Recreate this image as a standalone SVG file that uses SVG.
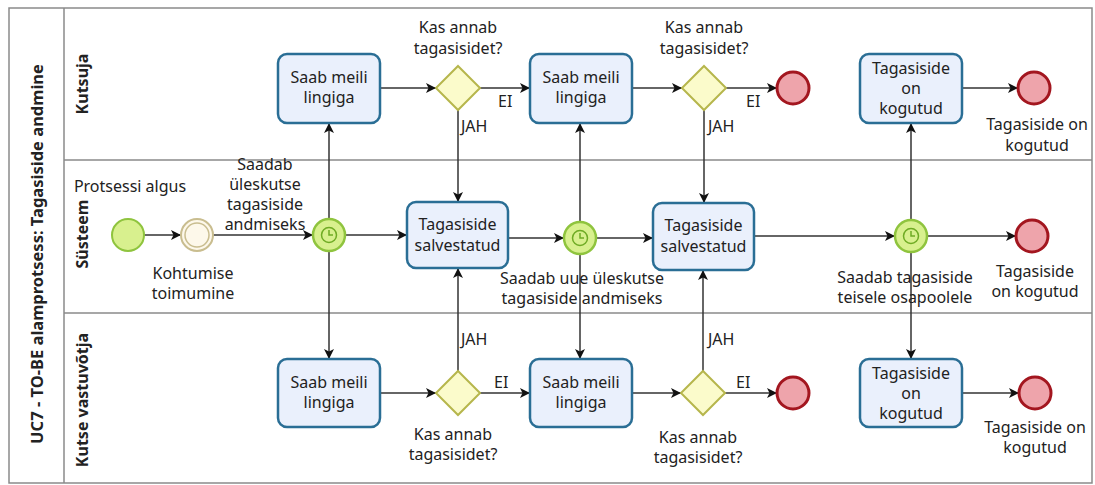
<svg xmlns="http://www.w3.org/2000/svg" width="1095" height="485" viewBox="0 0 1095 485">
  <defs>
    <style>
      text { font-family: "Noto Sans", "Open Sans", "DejaVu Sans", sans-serif; font-size: 16px; fill: #222; }
      .c { text-anchor: middle; }
      .pool { fill: #fff; stroke: #8a8a8a; stroke-width: 1.5; }
      .sep { stroke: #8a8a8a; stroke-width: 1.5; fill: none; }
      .hdr { font-weight: bold; text-anchor: middle; }
      .task { fill: #eaf0fc; stroke: #2a6e95; stroke-width: 2.5; }
      .gw { fill: #fbfbcb; stroke: #b6b64c; stroke-width: 2; }
      .start { fill: #d8f08e; stroke: #8fc43e; stroke-width: 2; }
      .inter { fill: #fdf8ea; stroke: #c9bd8f; stroke-width: 2; }
      .timer { fill: #d8f08e; stroke: #8fc43e; stroke-width: 2.5; }
      .clock { fill: none; stroke: #6fab24; stroke-width: 1.5; }
      .end { fill: #eea4ab; stroke: #a3161f; stroke-width: 3; }
      .flow { fill: none; stroke: #333; stroke-width: 1.5; marker-end: url(#arrow); }
    </style>
    <marker id="arrow" viewBox="0 0 10 10" refX="10" refY="5" markerWidth="10" markerHeight="10" markerUnits="userSpaceOnUse" orient="auto">
      <path d="M0,0 L10,5 L0,10 L2.5,5 Z" fill="#111"/>
    </marker>
    <g id="clockIcon">
      <circle class="clock" r="7.5"/>
      <path class="clock" d="M0,-5 V0 H4"/>
    </g>
  </defs>

  <!-- pool and lanes -->
  <g id="pool">
    <rect class="pool" x="9" y="8" width="1083" height="475"/>
    <line class="sep" x1="64" y1="8" x2="64" y2="483"/>
    <line class="sep" x1="64" y1="160" x2="1092" y2="160"/>
    <line class="sep" x1="64" y1="313" x2="1092" y2="313"/>
    <text class="hdr" style="font-size:16.5px" transform="translate(43,254) rotate(-90)">UC7 - TO-BE alamprotsess: Tagasiside andmine</text>
    <text class="hdr" transform="translate(88,84) rotate(-90)">Kutsuja</text>
    <text class="hdr" transform="translate(88,234) rotate(-90)">Süsteem</text>
    <text class="hdr" transform="translate(88,400) rotate(-90)">Kutse vastuvõtja</text>
  </g>

  <!-- sequence flows -->
  <g id="connectors">
    <path class="flow" d="M144,235 H181"/>
    <path class="flow" d="M213,235 H313"/>
    <path class="flow" d="M345,235 H407"/>
    <path class="flow" d="M329,219 V123"/>
    <path class="flow" d="M329,251 V359"/>
    <path class="flow" d="M380,88 H436"/>
    <path class="flow" d="M480,88 H530"/>
    <path class="flow" d="M458,110 V202"/>
    <path class="flow" d="M380,393 H436"/>
    <path class="flow" d="M480,393 H530"/>
    <path class="flow" d="M458,371 V268"/>
    <path class="flow" d="M508,238 H564"/>
    <path class="flow" d="M596,238 H653"/>
    <path class="flow" d="M580,222 V123"/>
    <path class="flow" d="M580,254 V359"/>
    <path class="flow" d="M632,88 H682"/>
    <path class="flow" d="M726,88 H777"/>
    <path class="flow" d="M704,110 V203"/>
    <path class="flow" d="M632,393 H681"/>
    <path class="flow" d="M725,393 H777"/>
    <path class="flow" d="M703,371 V270"/>
    <path class="flow" d="M754,236 H895"/>
    <path class="flow" d="M927,236 H1016"/>
    <path class="flow" d="M911,220 V123"/>
    <path class="flow" d="M911,252 V359"/>
    <path class="flow" d="M962,88 H1018"/>
    <path class="flow" d="M962,393 H1019"/>
    <text x="461" y="132">JAH</text>
    <text x="498" y="107">EI</text>
    <text x="708" y="132">JAH</text>
    <text x="746" y="107">EI</text>
    <text x="461" y="345">JAH</text>
    <text x="494" y="388">EI</text>
    <text x="708" y="345">JAH</text>
    <text x="736" y="388">EI</text>
  </g>

  <!-- Kutsuja lane -->
  <g id="kutsuja-meil-1">
    <rect class="task" x="278" y="54" width="102" height="69" rx="9"/>
    <text class="c" x="329" y="83">Saab meili</text>
    <text class="c" x="329" y="103">lingiga</text>
  </g>
  <g id="kutsuja-gw-1">
    <path class="gw" d="M458,66 L480,88 L458,110 L436,88 Z"/>
    <text class="c" x="458" y="33">Kas annab</text>
    <text class="c" x="458" y="54">tagasisidet?</text>
  </g>
  <g id="kutsuja-meil-2">
    <rect class="task" x="530" y="54" width="102" height="69" rx="9"/>
    <text class="c" x="581" y="83">Saab meili</text>
    <text class="c" x="581" y="103">lingiga</text>
  </g>
  <g id="kutsuja-gw-2">
    <path class="gw" d="M704,66 L726,88 L704,110 L682,88 Z"/>
    <text class="c" x="704" y="33">Kas annab</text>
    <text class="c" x="704" y="54">tagasisidet?</text>
  </g>
  <g id="kutsuja-end-1">
    <circle class="end" cx="793" cy="88" r="16"/>
  </g>
  <g id="kutsuja-kogutud">
    <rect class="task" x="860" y="54" width="102" height="69" rx="9"/>
    <text class="c" x="911" y="74">Tagasiside</text>
    <text class="c" x="911" y="94">on</text>
    <text class="c" x="911" y="114">kogutud</text>
  </g>
  <g id="kutsuja-end-2">
    <circle class="end" cx="1034" cy="88" r="16"/>
    <text class="c" x="1037" y="130">Tagasiside on</text>
    <text class="c" x="1037" y="151">kogutud</text>
  </g>

  <!-- Süsteem lane -->
  <g id="start">
    <circle class="start" cx="128" cy="235" r="16"/>
    <text class="c" x="130" y="192">Protsessi algus</text>
  </g>
  <g id="kohtumine">
    <circle class="inter" cx="197" cy="235" r="16"/>
    <circle class="inter" cx="197" cy="235" r="12" style="stroke-width:1.5"/>
    <text class="c" x="193" y="279">Kohtumise</text>
    <text class="c" x="193" y="299">toimumine</text>
  </g>
  <g id="timer-1">
    <circle class="timer" cx="329" cy="235" r="16"/>
    <use href="#clockIcon" x="329" y="235"/>
    <text class="c" x="265" y="170">Saadab</text>
    <text class="c" x="265" y="190">üleskutse</text>
    <text class="c" x="265" y="210">tagasiside</text>
    <text class="c" x="265" y="230">andmiseks</text>
  </g>
  <g id="salvestatud-1">
    <rect class="task" x="407" y="202" width="101" height="66" rx="9"/>
    <text class="c" x="457.5" y="230">Tagasiside</text>
    <text class="c" x="457.5" y="251">salvestatud</text>
  </g>
  <g id="timer-2">
    <circle class="timer" cx="580" cy="238" r="16"/>
    <use href="#clockIcon" x="580" y="238"/>
    <text class="c" x="582" y="284">Saadab uue üleskutse</text>
    <text class="c" x="582" y="304">tagasiside andmiseks</text>
  </g>
  <g id="salvestatud-2">
    <rect class="task" x="653" y="203" width="101" height="67" rx="9"/>
    <text class="c" x="703.5" y="231">Tagasiside</text>
    <text class="c" x="703.5" y="252">salvestatud</text>
  </g>
  <g id="timer-3">
    <circle class="timer" cx="911" cy="236" r="16"/>
    <use href="#clockIcon" x="911" y="236"/>
    <text class="c" x="905" y="283">Saadab tagasiside</text>
    <text class="c" x="905" y="303">teisele osapoolele</text>
  </g>
  <g id="susteem-end">
    <circle class="end" cx="1032" cy="236" r="16"/>
    <text class="c" x="1035" y="277">Tagasiside</text>
    <text class="c" x="1035" y="297">on kogutud</text>
  </g>

  <!-- Kutse vastuvõtja lane -->
  <g id="vastuvotja-meil-1">
    <rect class="task" x="278" y="359" width="102" height="68" rx="9"/>
    <text class="c" x="329" y="388">Saab meili</text>
    <text class="c" x="329" y="408">lingiga</text>
  </g>
  <g id="vastuvotja-gw-1">
    <path class="gw" d="M458,371 L480,393 L458,415 L436,393 Z"/>
    <text class="c" x="453" y="440">Kas annab</text>
    <text class="c" x="453" y="460">tagasisidet?</text>
  </g>
  <g id="vastuvotja-meil-2">
    <rect class="task" x="530" y="359" width="102" height="68" rx="9"/>
    <text class="c" x="581" y="388">Saab meili</text>
    <text class="c" x="581" y="408">lingiga</text>
  </g>
  <g id="vastuvotja-gw-2">
    <path class="gw" d="M703,371 L725,393 L703,415 L681,393 Z"/>
    <text class="c" x="698" y="443">Kas annab</text>
    <text class="c" x="698" y="463">tagasisidet?</text>
  </g>
  <g id="vastuvotja-end-1">
    <circle class="end" cx="793" cy="393" r="16"/>
  </g>
  <g id="vastuvotja-kogutud">
    <rect class="task" x="860" y="359" width="102" height="68" rx="9"/>
    <text class="c" x="911" y="379">Tagasiside</text>
    <text class="c" x="911" y="399">on</text>
    <text class="c" x="911" y="419">kogutud</text>
  </g>
  <g id="vastuvotja-end-2">
    <circle class="end" cx="1035" cy="393" r="16"/>
    <text class="c" x="1035" y="433">Tagasiside on</text>
    <text class="c" x="1035" y="453">kogutud</text>
  </g>
</svg>
